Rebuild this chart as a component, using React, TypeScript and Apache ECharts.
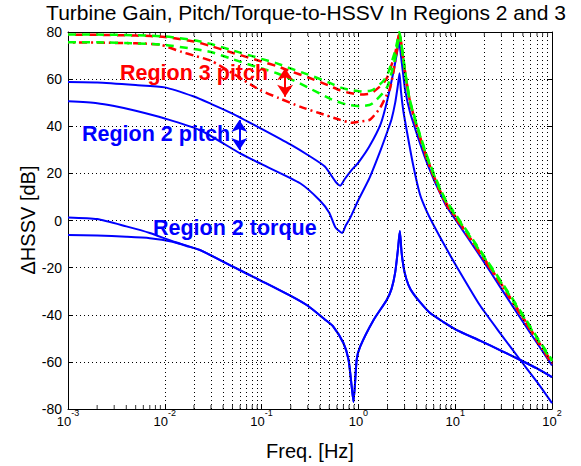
import React, { useEffect, useRef } from "react";
import * as echarts from "echarts";

const FONT = "'Liberation Sans', Arial, Helvetica, sans-serif";

// Axis ticks
const decadeExponents = [-3, -2, -1, 0, 1, 2];
const minorMultipliers = [2, 3, 4, 5, 6, 7, 8, 9];
const yMin = -80;
const yMax = 80;
const yStep = 20;

// Region 2 pitch (upper blue)
const freqA = [0.001, 0.002, 0.005, 0.01, 0.02, 0.03, 0.05, 0.1, 0.2, 0.3, 0.45, 0.58, 0.65, 0.72, 0.85, 1.0, 1.3, 1.7, 2.0, 2.3, 2.5, 2.63, 2.75, 2.9, 3.05, 3.41, 4.0, 5.0, 6.0, 7.0, 8.0, 10.4, 18, 30, 50, 70, 100];
const gainA = [58.8, 58.6, 57.5, 56.5, 52.6, 49.5, 45.4, 38.9, 32.2, 27.8, 22.9, 16.5, 14.8, 17.5, 21.4, 24.6, 31.5, 41, 51.5, 63, 71, 76, 70, 62, 55, 46, 37, 25.5, 17.5, 11.5, 6.5, -0.5, -15, -29, -43, -52, -61.5];

// Region 2 pitch (lower blue)
const freqB = [0.001, 0.002, 0.003, 0.005, 0.01, 0.023, 0.06, 0.1, 0.25, 0.4, 0.5, 0.58, 0.68, 0.74, 0.82, 1.0, 1.3, 1.7, 2.0, 2.2, 2.4, 2.55, 2.66, 2.75, 2.9, 3.1, 3.66, 4.33, 5.0, 5.9, 8.0, 10.4, 18, 30, 47, 70, 100];
const gainB = [50.6, 49.8, 48.6, 46.6, 43.3, 38.4, 28.5, 23.9, 15.8, 8.5, 3.3, -3, -5.3, -2.1, 1.0, 8.7, 18, 30, 38, 43, 50, 57, 62.5, 55, 47, 40, 24, 11, 4.5, -1.5, -11.5, -19.7, -36, -48.5, -59.2, -68.5, -77.5];

// Region 2 torque (upper blue, starts near 0 dB)
const freqC = [0.001, 0.002, 0.004, 0.007, 0.012, 0.023, 0.05, 0.1, 0.2, 0.3, 0.45, 0.55, 0.7, 0.79, 0.85, 0.89, 0.96, 1.04, 1.43, 1.96, 2.2, 2.4, 2.55, 2.68, 2.8, 3.0, 3.3, 3.66, 4.4, 5.5, 7.5, 10.4, 18, 30, 47, 70, 100];
const gainC = [1.3, 0.6, -2.5, -5.3, -8.8, -12.5, -19.5, -25.7, -32, -36.2, -42, -45, -52, -59, -70, -77, -59, -53.6, -42.3, -33.7, -29, -22, -13, -4.5, -14, -22, -27.5, -30.8, -35, -39.3, -43, -46.5, -51, -55.3, -59.2, -62.8, -66.5];

// Region 2 torque (lower blue, starts near -7 dB)
const freqD = [0.001, 0.002, 0.004, 0.007, 0.012, 0.018, 0.023, 0.05, 0.1, 0.2, 0.3, 0.45, 0.55, 0.7, 0.79, 0.85, 0.89, 0.96, 1.04, 1.43, 1.96, 2.2, 2.4, 2.55, 2.68, 2.8, 3.0, 3.3, 3.66, 4.4, 5.5, 7.5, 10.4, 18, 30, 47, 70, 100];
const gainD = [-6.2, -6.4, -6.9, -7.5, -9, -11.2, -12.5, -19.5, -25.7, -32, -36.2, -42, -45, -52, -59, -70, -77, -59, -53.6, -42.3, -33.7, -29, -22, -13, -4.5, -14, -22, -27.5, -30.8, -35, -39.3, -43, -46.5, -51, -55.3, -59.2, -62.8, -66.5];

// Region 3 pitch (green dashed, two operating points)
const freqG = [0.001, 0.002, 0.005, 0.01, 0.02, 0.03, 0.05, 0.1, 0.144, 0.2, 0.3, 0.5, 0.65, 0.8, 1.04, 1.3, 1.42, 1.79, 2.0, 2.22, 2.4, 2.55, 2.65, 2.75, 2.9, 3.1, 3.41, 4.0, 5.0, 6.0, 7.0, 8.0, 10.4, 18, 30, 50, 70, 100];
const gainG1 = [78.9, 78.9, 78.6, 78.1, 76.5, 74.9, 72.2, 68.6, 66.7, 64.5, 62, 58.5, 56.5, 55.5, 54.8, 55, 55.5, 59, 62, 67.6, 72, 77, 80, 76.5, 69.5, 61, 51, 41, 28.5, 20, 13.5, 8.7, 1.8, -12.5, -26, -40, -49.5, -59.2];
const gainG2 = [75.6, 75.6, 75.2, 74.5, 72.8, 71.5, 68.5, 64.5, 62.5, 60, 56.5, 51.8, 50, 49, 48.5, 49, 49.9, 54.1, 57, 63.3, 69, 75, 79, 76, 69, 60.5, 50.5, 40.5, 28, 19.5, 13, 8.2, 1.3, -13, -26.5, -40.5, -50, -59.7];

// Region 3 pitch (red dashed, upper)
const gainR1 = [78.9, 78.8, 78.5, 77.9, 76, 74, 71.2, 67.5, 65.5, 63.3, 60.8, 57.2, 55.2, 54.2, 53.5, 53.8, 54.5, 58, 61, 66.5, 71, 76.5, 79.5, 76, 69, 60.5, 50.5, 40, 27.5, 19, 12.5, 7.7, 0.8, -13.5, -27, -41, -50.5, -60.2];

// Region 3 pitch (red dash-dot, lower)
const freqR2 = [0.001, 0.002, 0.005, 0.009, 0.015, 0.02, 0.03, 0.05, 0.096, 0.15, 0.25, 0.4, 0.65, 0.85, 1.04, 1.32, 1.67, 1.97, 2.12, 2.3, 2.45, 2.58, 2.65, 2.75, 2.9, 3.1, 3.41, 4.0, 5.0, 6.0, 7.0, 8.0, 10.4, 18, 30, 50, 70, 100];
const gainR2 = [75.6, 75.5, 75.2, 74.6, 71.5, 70, 67.8, 62.5, 55.4, 52, 48.3, 45.5, 42.7, 41.5, 42, 42.8, 47.7, 53.4, 56, 63, 70, 76, 79, 75.5, 68.5, 60, 50, 39.5, 27, 18.5, 12, 7.2, 0.3, -14, -27.5, -41.5, -51, -60.8];

// Annotation arrows: [freq, top dB, bottom dB]
const region3Arrow = [0.175, 64.6, 52.5];
const region2Arrow = [0.0589, 42.7, 29.9];

const pairs = (f: number[], g: number[]) => f.map((v, i) => [v, g[i]]);

export default function App() {
  const ref = useRef<HTMLDivElement>(null);

  useEffect(() => {
    if (!ref.current) return;
    const chart = echarts.init(ref.current, null, { renderer: "svg" });

    const minorVals: number[] = [];
    decadeExponents.slice(0, -1).forEach((e) =>
      minorMultipliers.forEach((m) => minorVals.push(+(m * Math.pow(10, e)).toPrecision(6)))
    );
    const innerDecades = decadeExponents.slice(1, -1).map((e) => +Math.pow(10, e).toPrecision(6));
    const gridX = [...minorVals, ...innerDecades];

    const blue = "#0000ff";
    const red = "#ff0000";
    const green = "#00ff00";

    const lineSeries = (name: string, data: number[][], color: string, type: any, width: number, dashOffset = 0) => ({
      name,
      type: "line",
      data,
      showSymbol: false,
      symbol: "none",
      smooth: 0.2,
      z: 3,
      lineStyle: { color, width, type, dashOffset, cap: "butt" },
      emphasis: { disabled: true },
    });

    const arrowMark = (arr: number[], color: string) => ({
      silent: true,
      symbol: ["arrow", "arrow"],
      symbolSize: 12,
      label: { show: false },
      lineStyle: { color, type: "solid", width: 2 },
      data: [[{ coord: [arr[0], arr[1]] }, { coord: [arr[0], arr[2]] }]],
    });

    const axisCommonX = {
      type: "log",
      logBase: 10,
      min: 0.001,
      max: 100,
      axisLine: { show: true, onZero: false, lineStyle: { color: "#000", width: 1 } },
      axisTick: { show: true, inside: true, length: 5, lineStyle: { color: "#000" } },
      splitLine: { show: false },
    };

    const axisCommonY = {
      type: "value",
      min: yMin,
      max: yMax,
      interval: yStep,
      axisLine: { show: true, onZero: false, lineStyle: { color: "#000", width: 1 } },
      axisTick: { show: true, inside: true, length: 5, lineStyle: { color: "#000" } },
    };

    chart.setOption({
      animation: false,
      backgroundColor: "#fff",
      grid: { left: 68, right: 29, top: 32, bottom: 57, containLabel: false },
      xAxis: [
        {
          ...axisCommonX,
          position: "bottom",
          axisLabel: {
            show: true,
            margin: 5,
            formatter: (v: number) => `{b|10}{s|${Math.round(Math.log10(v))}}`,
            rich: {
              b: { fontSize: 13, fontFamily: FONT, color: "#000", lineHeight: 14 },
              s: { fontSize: 9, fontFamily: FONT, color: "#000", lineHeight: 10, padding: [0, 0, 16, 0] },
            },
          },
        },
        {
          ...axisCommonX,
          position: "top",
          axisLabel: { show: false },
        },
      ],
      yAxis: [
        {
          ...axisCommonY,
          position: "left",
          axisLabel: { show: true, margin: 6, fontSize: 14, lineHeight: 13, fontFamily: FONT, color: "#000" },
          splitLine: { show: true, lineStyle: { color: "#000", type: [1, 3], width: 1 } },
        },
        {
          ...axisCommonY,
          position: "right",
          axisLabel: { show: false },
          splitLine: { show: false },
        },
      ],
      series: [
        {
          name: "minorTop",
          type: "scatter",
          z: 1,
          silent: true,
          data: minorVals.map((v) => [v, yMax]),
          symbol: "rect",
          symbolSize: [1, 4],
          symbolOffset: [0, 2],
          itemStyle: { color: "#000" },
          markLine: {
            silent: true,
            symbol: ["none", "none"],
            label: { show: false },
            lineStyle: { color: "#000", type: [1, 3], width: 1 },
            data: gridX.map((v) => ({ xAxis: v })),
          },
        },
        {
          name: "minorBottom",
          type: "scatter",
          z: 1,
          silent: true,
          data: minorVals.map((v) => [v, yMin]),
          symbol: "rect",
          symbolSize: [1, 4],
          symbolOffset: [0, -2],
          itemStyle: { color: "#000" },
        },
        lineSeries("pitchR2a", pairs(freqA, gainA), blue, "solid", 2),
        { ...lineSeries("pitchR2b", pairs(freqB, gainB), blue, "solid", 2), markLine: arrowMark(region2Arrow, blue) },
        lineSeries("torqueR2a", pairs(freqC, gainC), blue, "solid", 2),
        lineSeries("torqueR2b", pairs(freqD, gainD), blue, "solid", 2),
        lineSeries("pitchR3redA", pairs(freqG, gainR1), red, [8, 6], 2.5, 7),
        { ...lineSeries("pitchR3redB", pairs(freqR2, gainR2), red, [8, 4, 2, 4], 2.5, 7), markLine: arrowMark(region3Arrow, red) },
        lineSeries("pitchR3greenA", pairs(freqG, gainG1), green, [8, 6], 2.5),
        lineSeries("pitchR3greenB", pairs(freqG, gainG2), green, [8, 6], 2.5),
      ],
      graphic: [
        {
          type: "text",
          x: 306,
          y: 12,
          z: 100,
          style: {
            text: "Turbine Gain, Pitch/Torque-to-HSSV In Regions 2 and 3",
            fontSize: 21,
            fontFamily: FONT,
            fill: "#000",
            align: "center",
            verticalAlign: "middle",
            textAlign: "center",
            textVerticalAlign: "middle",
          },
        },
        {
          type: "text",
          x: 310,
          y: 451,
          z: 100,
          style: {
            text: "Freq. [Hz]",
            fontSize: 20,
            fontFamily: FONT,
            fill: "#000",
            align: "center",
            verticalAlign: "middle",
            textAlign: "center",
            textVerticalAlign: "middle",
          },
        },
        {
          type: "text",
          x: 28,
          y: 220,
          rotation: Math.PI / 2,
          z: 100,
          style: {
            text: "\u0394HSSV [dB]",
            fontSize: 20,
            fontFamily: FONT,
            fill: "#000",
            align: "center",
            verticalAlign: "middle",
            textAlign: "center",
            textVerticalAlign: "middle",
          },
        },
        {
          type: "text",
          x: 120,
          y: 72.5,
          z: 100,
          style: {
            text: "Region 3 pitch",
            fontSize: 21.5,
            fontWeight: "bold",
            fontFamily: FONT,
            fill: red,
            align: "left",
            verticalAlign: "middle",
            textAlign: "left",
            textVerticalAlign: "middle",
          },
        },
        {
          type: "text",
          x: 82,
          y: 134,
          z: 100,
          style: {
            text: "Region 2 pitch",
            fontSize: 21.5,
            fontWeight: "bold",
            fontFamily: FONT,
            fill: blue,
            align: "left",
            verticalAlign: "middle",
            textAlign: "left",
            textVerticalAlign: "middle",
          },
        },
        {
          type: "text",
          x: 153,
          y: 228,
          z: 100,
          style: {
            text: "Region 2 torque",
            fontSize: 21.5,
            fontWeight: "bold",
            fontFamily: FONT,
            fill: blue,
            align: "left",
            verticalAlign: "middle",
            textAlign: "left",
            textVerticalAlign: "middle",
          },
        },
      ],
    });

    return () => chart.dispose();
  }, []);

  return (
    <div
      ref={ref}
      style={{ position: "absolute", left: 0, top: 0, width: 581, height: 466, background: "#fff" }}
    />
  );
}
